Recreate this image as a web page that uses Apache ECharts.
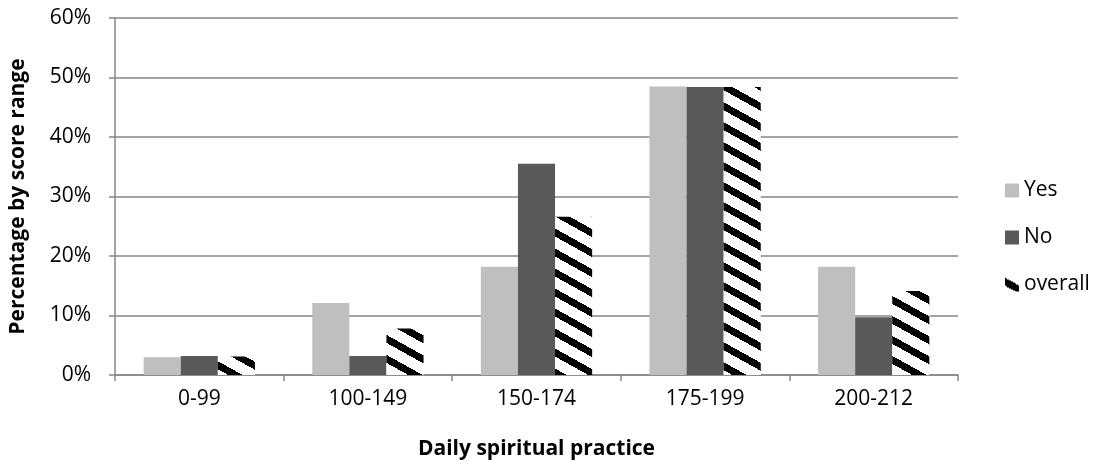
<!DOCTYPE html>
<html>
<head>
<meta charset="utf-8">
<script src="https://cdn.jsdelivr.net/npm/echarts@6/dist/echarts.min.js"></script>
<style>
html,body{margin:0;padding:0;background:#fff;}
#chart{width:1099px;height:465px;}
</style>
</head>
<body>
<div id="chart"></div>
<script>
var categories = ['0-99', '100-149', '150-174', '175-199', '200-212'];
var yesValues = [3.0, 12.1, 18.2, 48.5, 18.2];
var noValues = [3.2, 3.2, 35.5, 48.4, 9.7];
var overallValues = [3.1, 7.8, 26.6, 48.4, 14.1];
var seriesNames = ['Yes', 'No', 'overall'];
var yTicks = [0, 10, 20, 30, 40, 50, 60];

function makeStripeTile() {
  var W = 36, H = 20, slope = H / W;
  var c = document.createElement('canvas');
  c.width = W; c.height = H;
  var ctx = c.getContext('2d');
  var img = ctx.createImageData(W, H);
  for (var y = 0; y < H; y++) {
    for (var x = 0; x < W; x++) {
      var ph = ((y - slope * x) % H + H) % H;
      var black = ph < 8;
      var i = (y * W + x) * 4;
      var v = black ? 0 : 255;
      img.data[i] = v; img.data[i+1] = v; img.data[i+2] = v; img.data[i+3] = 255;
    }
  }
  ctx.putImageData(img, 0, 0);
  return c;
}
var stripe = { image: makeStripeTile(), repeat: 'repeat' };

var font = 'Open Sans';
var chart = echarts.init(document.getElementById('chart'), null, {renderer: 'canvas'});
chart.setOption({
  animation: false,
  backgroundColor: '#ffffff',
  textStyle: { fontFamily: font, color: '#000' },
  grid: { left: 115, right: 141, top: 18, bottom: 87, containLabel: false },
  legend: {
    orient: 'vertical',
    left: 1000,
    top: 175,
    itemWidth: 14,
    itemHeight: 14,
    itemGap: 26,
    icon: 'rect',
    textStyle: { fontFamily: font, fontSize: 21, color: '#000', padding: [0, 0, 0, 0] },
    data: seriesNames
  },
  xAxis: {
    type: 'category',
    data: categories,
    name: 'Daily spiritual practice',
    nameLocation: 'middle',
    nameGap: 64,
    nameTextStyle: { fontFamily: font, fontSize: 21, fontWeight: 'bold', color: '#000' },
    axisLine: { lineStyle: { color: '#868686', width: 1.5 } },
    axisTick: { show: true, length: 6, lineStyle: { color: '#868686', width: 1.5 } },
    axisLabel: { fontFamily: font, fontSize: 21, color: '#000', margin: 14 }
  },
  yAxis: {
    type: 'value',
    min: 0,
    max: 60,
    interval: 10,
    name: 'Percentage by score range',
    nameLocation: 'middle',
    nameGap: 86,
    nameTextStyle: { fontFamily: font, fontSize: 21, fontWeight: 'bold', color: '#000' },
    axisLine: { show: true, lineStyle: { color: '#868686', width: 1.5 } },
    axisTick: { show: true, length: 6, lineStyle: { color: '#868686', width: 1.5 } },
    axisLabel: { fontFamily: font, fontSize: 21, color: '#000', margin: 24,
      formatter: function (v) { return yTicks.indexOf(v) >= 0 ? v + '%' : ''; } },
    splitLine: { show: true, lineStyle: { color: '#868686', width: 1.5 } }
  },
  series: [
    { name: seriesNames[0], type: 'bar', data: yesValues, barGap: '0%', barCategoryGap: '34%',
      itemStyle: { color: '#BFBFBF' } },
    { name: seriesNames[1], type: 'bar', data: noValues, barGap: '0%', barCategoryGap: '34%',
      itemStyle: { color: '#595959' } },
    { name: seriesNames[2], type: 'bar', data: overallValues, barGap: '0%', barCategoryGap: '34%',
      itemStyle: { color: stripe } }
  ]
});
</script>
</body>
</html>
